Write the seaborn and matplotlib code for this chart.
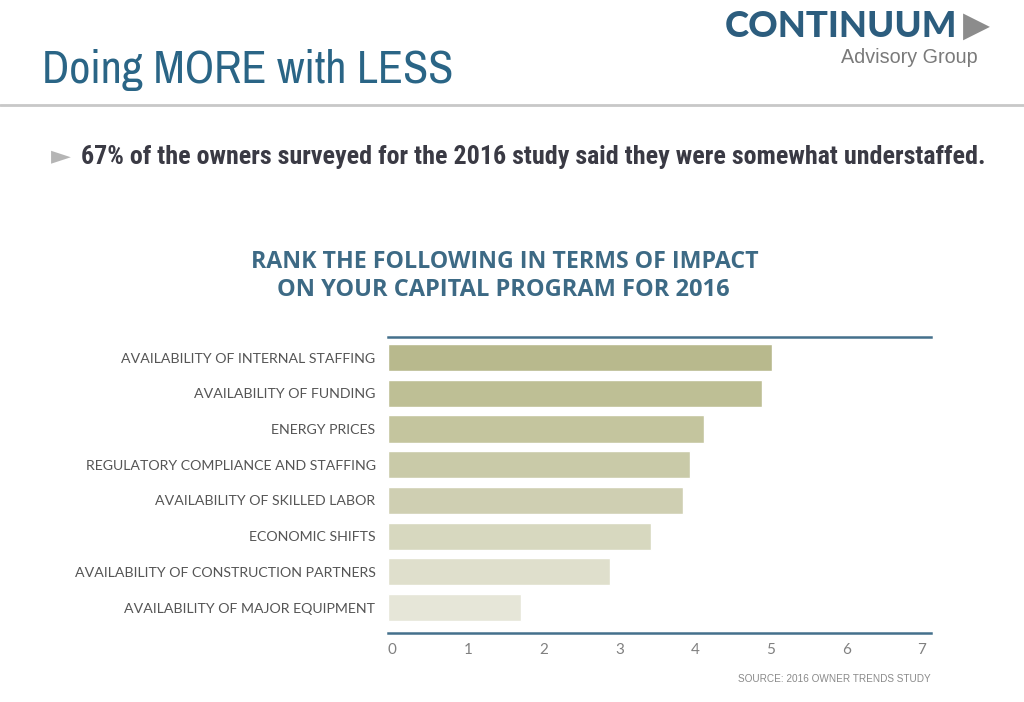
import matplotlib
matplotlib.use("Agg")
import matplotlib.pyplot as plt
import matplotlib.font_manager as fm
import seaborn as sns
import pandas as pd

categories = [
    "AVAILABILITY OF INTERNAL STAFFING",
    "AVAILABILITY OF FUNDING",
    "ENERGY PRICES",
    "REGULATORY COMPLIANCE AND STAFFING",
    "AVAILABILITY OF SKILLED LABOR",
    "ECONOMIC SHIFTS",
    "AVAILABILITY OF CONSTRUCTION PARTNERS",
    "AVAILABILITY OF MAJOR EQUIPMENT",
]
values = [5.08, 4.95, 4.18, 3.99, 3.90, 3.48, 2.94, 1.76]
x_ticks = [0, 1, 2, 3, 4, 5, 6, 7]
bar_colors = ["#b8b98d", "#bebf95", "#c4c59e", "#c9caa8", "#cfcfb2", "#d7d8bf",
              "#dfdfcc", "#e6e6d8"]


def _w(f):
    w = f.weight
    if isinstance(w, str):
        w = fm.weight_dict.get(w, 400)
    return w


faces = {}
for f in fm.fontManager.ttflist:
    faces.setdefault(f.name, set()).add(_w(f))


def pick(cands, minw=0, maxw=1000, default="DejaVu Sans"):
    for c in cands:
        if c in faces and any(minw <= w <= maxw for w in faces[c]):
            return c
    return default


NARROW = pick(["Archivo Narrow", "Roboto Condensed", "PT Sans Narrow"], 400, 500,
              "Liberation Sans")
NARROW_B = pick(["Archivo Narrow", "Roboto Condensed", "PT Sans Narrow",
                 "Pragati Narrow", "Fira Sans Condensed", "IBM Plex Sans Condensed",
                 "Asap Condensed", "Encode Sans Condensed", "Barlow Semi Condensed"],
                700, 800, "Liberation Sans")
GEO_B = pick(["Nunito Sans", "Montserrat", "Mulish", "Raleway", "Open Sans", "Lato"],
             700, 800, "DejaVu Sans")
HEAVY = pick(["Montserrat", "Lato", "Open Sans", "Nunito Sans"], 800, 950, "")
if not HEAVY:
    HEAVY = pick(["Archivo Black"], 0, 1000, "DejaVu Sans")
LABEL = pick(["Lato"], 400, 400)
HELV = pick(["Liberation Sans", "Arimo"], 400, 400)

sns.set_theme(style="white")
plt.rcParams["font.family"] = [LABEL, "DejaVu Sans"]

df = pd.DataFrame({"cat": categories, "val": values})

W, H = 1024, 702
fig = plt.figure(figsize=(W / 100, H / 100), dpi=100)
ax = fig.add_axes([388 / W, 1 - 633 / H, (931 - 388) / W, (633 - 337) / H])

sns.barplot(data=df, y="cat", x="val", hue="cat", palette=bar_colors,
            legend=False, width=0.76, ax=ax, saturation=1)

ax.set_xlim(0, 7.18)
ax.set_ylim(7.71, -0.574)
ax.set_xlabel("")
ax.set_ylabel("")
for s in ["left", "right"]:
    ax.spines[s].set_visible(False)
for s in ["top", "bottom"]:
    ax.spines[s].set_visible(True)
    ax.spines[s].set_color("#44708c")
    ax.spines[s].set_linewidth(1.8)
ax.set_xticks(x_ticks)
ax.set_xticklabels([str(t) for t in x_ticks], ha="left", color="#808080",
                   fontsize=11)
ax.tick_params(axis="x", length=0, pad=7)
ax.tick_params(axis="y", length=0, pad=9)
for lab in ax.get_yticklabels():
    lab.set_color("#555555")
    lab.set_fontsize(10.2)


def fy(py):
    return 1 - py / H


fitted = []


def txt(x, y, s, width, **kw):
    t = fig.text(x / W, fy(y), s, **kw)
    fitted.append((t, width))
    return t


txt(42, 83, "Doing MORE with LESS", 411, family=NARROW, fontsize=28,
    color="#2a6586", va="baseline", ha="left")
fig.add_artist(plt.Line2D([0, 1], [fy(105)] * 2, color="#c8c8c8", lw=2))

txt(725, 37, "CONTINUUM", 232, family=HEAVY, fontweight="black", fontsize=22,
    color="#2c5d7e", va="baseline", ha="left")
txt(976, 26, "\u25B6", 27, family="DejaVu Sans", fontsize=26,
    color="#8c8c8c", va="center", ha="center")
txt(978, 63, "Advisory Group", 136, family=HELV, fontsize=15,
    color="#7a7a7a", va="baseline", ha="right")

txt(61, 156, "\u25BA", 20, family="DejaVu Sans", fontsize=14,
    color="#b5b5b5", va="center", ha="center")
txt(81, 164,
    "67% of the owners surveyed for the 2016 study said they were somewhat understaffed.",
    903, family=NARROW_B, fontweight="bold", fontsize=16,
    color="#3a3a44", va="baseline", ha="left")

txt(505, 268, "RANK THE FOLLOWING IN TERMS OF IMPACT", 508, family=GEO_B,
    fontweight="bold", fontsize=14, color="#3d6a85", va="baseline", ha="center")
txt(503, 296, "ON YOUR CAPITAL PROGRAM FOR 2016", 454, family=GEO_B,
    fontweight="bold", fontsize=14, color="#3d6a85", va="baseline", ha="center")

txt(931, 682, "SOURCE: 2016 OWNER TRENDS STUDY", 193, family=HELV, fontsize=7.3,
    color="#8a8a8a", va="baseline", ha="right")

fig.canvas.draw()
r = fig.canvas.get_renderer()
for t, w in fitted:
    cur = t.get_window_extent(r).width
    if cur > 0:
        t.set_fontsize(t.get_fontsize() * w / cur)

fig.savefig("out.png", dpi=100, facecolor="white")
